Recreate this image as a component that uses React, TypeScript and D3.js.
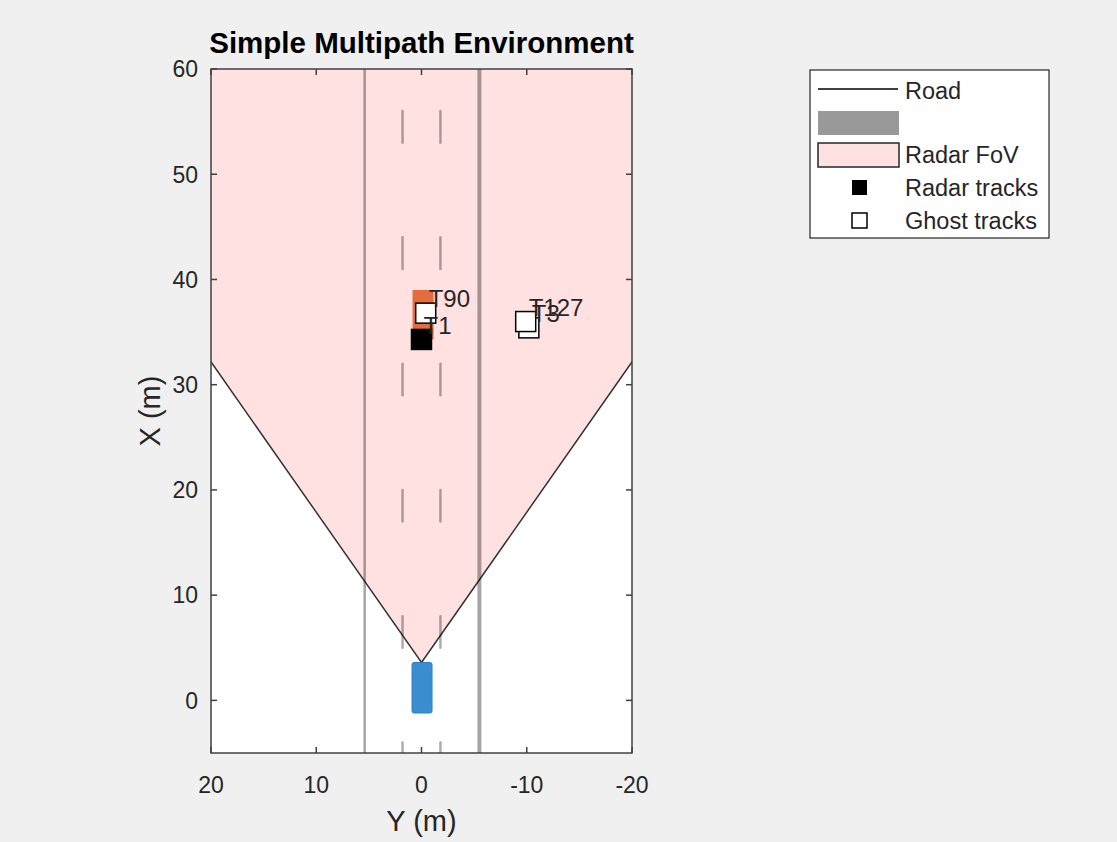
import React from "react";
import * as d3 from "d3";

// ---- data ----
const xTicks = [20, 10, 0, -10, -20]; // lateral Y (m)
const yTicks = [0, 10, 20, 30, 40, 50, 60]; // longitudinal X (m)
const roadEdges = [5.4, -5.5];
const roadEdgeWidths = [2.5, 4];
const laneMarks = [1.8, -1.8];
const dashStarts = [-7, 5, 17, 29, 41, 53];
const dashLength = 3;

const egoCar = { xMin: -1.2, xMax: 3.6, yC: -0.05, w: 1.9 };
const targetCar = { xMin: 34.3, xMax: 39.0, yC: -0.15, w: 2.0 };

const sensorX = 3.6;
const fovHalfAngle = 35.0; // deg
const fovRange = 100;

const radarTrackIds = ["T1"];
const radarTrackX = [34.3];
const radarTrackY = [0.0];

const ghostTrackIds = ["T3", "T127", "T90"];
const ghostTrackX = [35.4, 36.0, 36.8];
const ghostTrackY = [-10.2, -9.9, -0.4];

const legendLabels = ["Road", "", "Radar FoV", "Radar tracks", "Ghost tracks"];

const W = 1117;
const H = 842;
const L = 211, R = 632, T = 69, B = 753;
const FONT = "'Liberation Sans', Arial, Helvetica, sans-serif";
const TXT = "#262626";
const PINK = "#ffe1e1";

export default function App() {
  const x = d3.scaleLinear().domain([20, -20]).range([L, R]);
  const y = d3.scaleLinear().domain([-5, 60]).range([B, T]);

  // FoV polygon from sensor params
  const angles = d3.range(-fovHalfAngle, fovHalfAngle + 0.001, 1);
  const fovPts: [number, number][] = [[sensorX, 0]];
  angles.forEach((a) => {
    const r = (a * Math.PI) / 180;
    fovPts.push([sensorX + fovRange * Math.cos(r), fovRange * Math.sin(r)]);
  });
  const fovPath =
    d3.line<[number, number]>().x((d) => x(d[1])).y((d) => y(d[0]))(fovPts) + "Z";

  const car = (c: typeof egoCar) => ({
    x: x(c.yC + c.w / 2),
    y: y(c.xMax),
    width: x(c.yC - c.w / 2) - x(c.yC + c.w / 2),
    height: y(c.xMin) - y(c.xMax),
  });
  const ego = car(egoCar);
  const tgt = car(targetCar);
  const sq = 20;

  const legendX = 810, legendY = 70, legendW = 239, legendH = 168;
  const rowY = [91, 123, 155, 188, 221];

  return (
    <svg
      width={W}
      height={H}
      style={{ position: "absolute", left: 0, top: 0 }}
      fontFamily={FONT}
    >
      <rect width={W} height={H} fill="#f0f0f0" />
      <defs>
        <clipPath id="plotClip">
          <rect x={L} y={T} width={R - L} height={B - T} />
        </clipPath>
      </defs>
      <rect x={L} y={T} width={R - L} height={B - T} fill="#ffffff" />
      <g clipPath="url(#plotClip)">
        <path d={fovPath} fill={PINK} stroke="#333333" strokeWidth={1.5} />
        {roadEdges.map((e, i) => (
          <line
            key={"re" + i}
            x1={x(e)}
            x2={x(e)}
            y1={y(-10)}
            y2={y(70)}
            stroke="#000"
            strokeOpacity={0.35}
            strokeWidth={roadEdgeWidths[i]}
          />
        ))}
        {laneMarks.map((m, i) =>
          dashStarts.map((s, j) => (
            <line
              key={"lm" + i + "-" + j}
              x1={x(m)}
              x2={x(m)}
              y1={y(s)}
              y2={y(s + dashLength)}
              stroke="#000"
              strokeOpacity={0.32}
              strokeWidth={2.5}
              strokeLinecap="round"
            />
          ))
        )}
        <rect {...ego} rx={2} fill="#2f87cb" fillOpacity={0.95} stroke="#2a80c5" strokeWidth={1} />
        <rect {...tgt} fill="#e0602e" fillOpacity={0.9} />
        {radarTrackIds.map((id, i) => (
          <rect
            key={id}
            x={x(radarTrackY[i]) - sq / 2}
            y={y(radarTrackX[i]) - sq / 2}
            width={sq}
            height={sq}
            fill="#000"
            stroke="#000"
            strokeWidth={1.5}
          />
        ))}
        {ghostTrackIds.map((id, i) => (
          <rect
            key={id}
            x={x(ghostTrackY[i]) - sq / 2}
            y={y(ghostTrackX[i]) - sq / 2}
            width={sq}
            height={sq}
            fill="#fff"
            stroke="#000"
            strokeWidth={1.5}
          />
        ))}
        {radarTrackIds.map((id, i) => (
          <text
            key={"l" + id}
            x={x(radarTrackY[i]) + 2}
            y={y(radarTrackX[i]) - 5}
            fontSize={24}
            fill={TXT}
          >
            {id}
          </text>
        ))}
        {ghostTrackIds.map((id, i) => (
          <text
            key={"l" + id}
            x={x(ghostTrackY[i]) + 3}
            y={y(ghostTrackX[i]) - 6}
            fontSize={24}
            fill={TXT}
          >
            {id}
          </text>
        ))}
      </g>
      {/* axes box */}
      <rect x={L} y={T} width={R - L} height={B - T} fill="none" stroke="#404040" strokeWidth={1.5} />
      {xTicks.map((t) => (
        <g key={"xt" + t}>
          <line x1={x(t)} x2={x(t)} y1={B} y2={B - 6} stroke="#404040" strokeWidth={1.5} />
          <line x1={x(t)} x2={x(t)} y1={T} y2={T + 6} stroke="#404040" strokeWidth={1.5} />
          <text x={x(t)} y={793} textAnchor="middle" fontSize={23} fill={TXT}>
            {t}
          </text>
        </g>
      ))}
      {yTicks.map((t) => (
        <g key={"yt" + t}>
          <line x1={L} x2={L + 6} y1={y(t)} y2={y(t)} stroke="#404040" strokeWidth={1.5} />
          <line x1={R} x2={R - 6} y1={y(t)} y2={y(t)} stroke="#404040" strokeWidth={1.5} />
          <text x={198} y={y(t)} dy="0.36em" textAnchor="end" fontSize={23} fill={TXT}>
            {t}
          </text>
        </g>
      ))}
      <text x={(L + R) / 2} y={53} textAnchor="middle" fontSize={29.5} fontWeight="bold" fill="#000">
        Simple Multipath Environment
      </text>
      <text x={(L + R) / 2} y={831} textAnchor="middle" fontSize={29} fill={TXT}>
        Y (m)
      </text>
      <text
        transform={`translate(160,${(T + B) / 2}) rotate(-90)`}
        textAnchor="middle"
        fontSize={29}
        fill={TXT}
      >
        X (m)
      </text>
      {/* legend */}
      <rect x={legendX} y={legendY} width={legendW} height={legendH} fill="#fff" stroke="#262626" strokeWidth={1.2} />
      <line x1={818} x2={898} y1={rowY[0] - 2} y2={rowY[0] - 2} stroke="#000" strokeWidth={1.5} />
      <rect x={818} y={rowY[1] - 12} width={81} height={24} fill="#999999" />
      <rect x={818} y={rowY[2] - 12} width={81} height={24} fill={PINK} stroke="#262626" strokeWidth={1.5} />
      <rect x={852} y={rowY[3] - 8} width={15} height={15} fill="#000" />
      <rect x={852} y={rowY[4] - 8} width={15} height={15} fill="#fff" stroke="#000" strokeWidth={1.5} />
      {legendLabels.map((lab, i) =>
        lab ? (
          <text key={"lg" + i} x={905} y={rowY[i]} dy="0.36em" fontSize={23.5} fill={TXT}>
            {lab}
          </text>
        ) : null
      )}
    </svg>
  );
}
